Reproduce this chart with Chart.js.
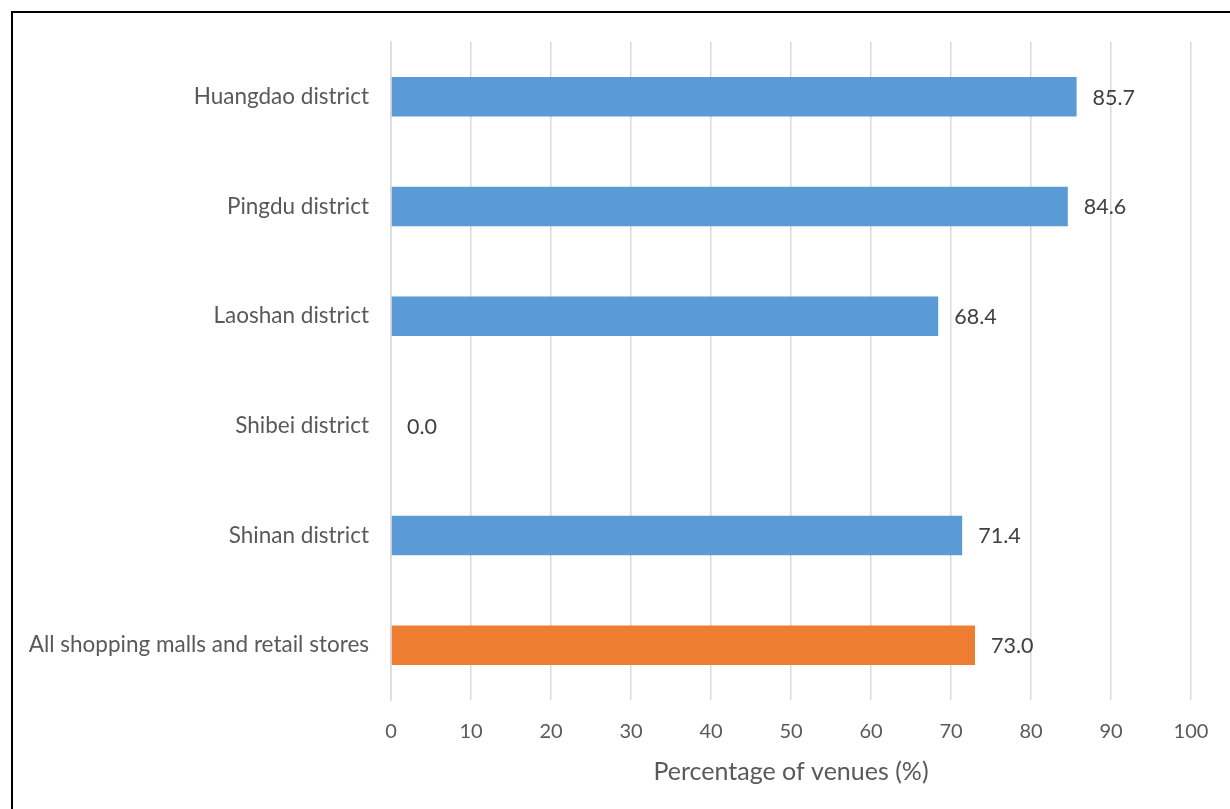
<!DOCTYPE html>
<html>
<head>
<meta charset="utf-8">
<script src="https://cdn.jsdelivr.net/npm/chart.js@4/dist/chart.umd.min.js"></script>
<style>
  html, body { margin: 0; padding: 0; background: #fff; }
  #wrap { position: relative; width: 1230px; height: 809px; }
  #frame { position: absolute; left: 11px; top: 11px; right: -10px; bottom: -10px; border-top: 2px solid #000; border-left: 2px solid #000; }
  canvas { position: absolute; left: 0; top: 0; }
</style>
</head>
<body>
<div id="wrap">
  <div id="frame"></div>
  <canvas id="chart" width="1230" height="809"></canvas>
</div>
<script>
// data
const categories = ['Huangdao district', 'Pingdu district', 'Laoshan district', 'Shibei district', 'Shinan district', 'All shopping malls and retail stores'];
const percentages = [85.7, 84.6, 68.4, 0.0, 71.4, 73.0];
const barColors = ['#5B9BD5', '#5B9BD5', '#5B9BD5', '#5B9BD5', '#5B9BD5', '#ED7D31'];
const xTicks = [0, 10, 20, 30, 40, 50, 60, 70, 80, 90, 100];
const axisTitle = 'Percentage of venues (%)';

const FONT = 'Lato, "Open Sans", sans-serif';

// draws the value next to each bar end
const valueLabels = {
    id: 'valueLabels',
    afterDatasetsDraw(chart) {
        const ctx = chart.ctx;
        const meta = chart.getDatasetMeta(0);
        ctx.save();
        ctx.font = '21.5px ' + FONT;
        ctx.fillStyle = '#404040';
        ctx.textAlign = 'left';
        ctx.textBaseline = 'middle';
        meta.data.forEach((bar, i) => {
            ctx.fillText(percentages[i].toFixed(1), bar.x + 16, bar.y + 1);
        });
        ctx.restore();
    }
};

new Chart(document.getElementById('chart'), {
    type: 'bar',
    data: {
        labels: categories,
        datasets: [{
            data: percentages,
            backgroundColor: barColors,
            borderWidth: 0,
            barPercentage: 0.36,
            categoryPercentage: 1.0
        }]
    },
    options: {
        indexAxis: 'y',
        responsive: false,
        animation: false,
        layout: { padding: { left: 0, top: 42, right: 39, bottom: 0 } },
        plugins: {
            legend: { display: false },
            tooltip: { enabled: false }
        },
        scales: {
            x: {
                min: 0,
                max: 100,
                afterBuildTicks: scale => { scale.ticks = xTicks.map(v => ({ value: v })); },
                afterFit: scale => { scale.height = 109; },
                grid: { color: '#D9D9D9', lineWidth: 1.5, drawTicks: false },
                border: { display: false },
                ticks: {
                    padding: 20,
                    color: '#595959',
                    font: { size: 20, family: FONT }
                },
                title: {
                    display: true,
                    text: axisTitle,
                    color: '#595959',
                    font: { size: 25, family: FONT },
                    padding: { top: 4, bottom: 22 }
                }
            },
            y: {
                afterFit: scale => { scale.width = 391; },
                grid: { display: false },
                border: { display: true, color: '#D9D9D9', width: 1.5 },
                ticks: {
                    padding: 14,
                    color: '#595959',
                    font: { size: 22.5, family: FONT }
                }
            }
        }
    },
    plugins: [valueLabels]
});
</script>
</body>
</html>
